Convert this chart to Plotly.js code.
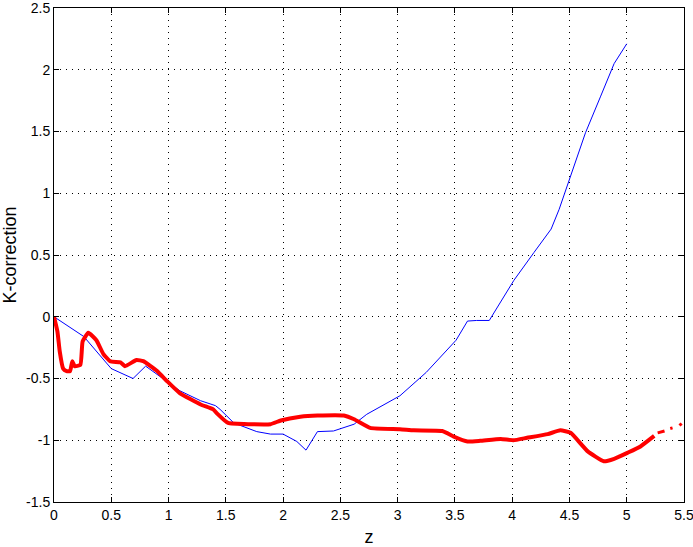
<!DOCTYPE html>
<html>
<head>
<meta charset="utf-8">
<script src="https://cdn.plot.ly/plotly-3.0.1.min.js"></script>
<style>html,body{margin:0;padding:0;background:#fff;}#chart{width:693px;height:547px;}</style>
</head>
<body>
<div id="chart"></div>
<script>
// Blue (thin) K-correction curve
const blueZ = [0, 0.26, 0.50, 0.69, 0.80, 0.985, 1.10, 1.28, 1.41, 1.45, 1.57, 1.77, 1.89, 2.00, 2.12, 2.20, 2.30, 2.44, 2.62, 2.73, 3.02, 3.25, 3.51, 3.61, 3.69, 3.80, 4.015, 4.19, 4.34, 4.41, 4.51, 4.64, 4.77, 4.89, 5.00];
const blueK = [0, -0.16, -0.42, -0.50, -0.40, -0.52, -0.60, -0.68, -0.72, -0.75, -0.86, -0.93, -0.95, -0.95, -1.01, -1.08, -0.93, -0.925, -0.87, -0.79, -0.64, -0.45, -0.19, -0.035, -0.03, -0.03, 0.295, 0.52, 0.71, 0.87, 1.14, 1.49, 1.78, 2.05, 2.21];

// Red (thick) K-correction curve
const redZ = [0, 0.03, 0.05, 0.08, 0.11, 0.14, 0.16, 0.18, 0.23, 0.25, 0.30, 0.37, 0.43, 0.49, 0.58, 0.62, 0.72, 0.78, 0.90, 0.985, 1.10, 1.28, 1.39, 1.42, 1.52, 1.71, 1.89, 1.98, 2.15, 2.30, 2.53, 2.62, 2.76, 3.02, 3.14, 3.39, 3.49, 3.61, 3.72, 3.90, 4.01, 4.13, 4.31, 4.42, 4.51, 4.66, 4.80, 4.89, 5.01, 5.12, 5.24];
const redK = [0, -0.12, -0.28, -0.42, -0.44, -0.44, -0.36, -0.40, -0.39, -0.20, -0.13, -0.19, -0.30, -0.36, -0.37, -0.40, -0.35, -0.36, -0.44, -0.52, -0.62, -0.71, -0.75, -0.78, -0.86, -0.87, -0.87, -0.84, -0.81, -0.80, -0.80, -0.83, -0.90, -0.91, -0.92, -0.925, -0.97, -1.01, -1.005, -0.99, -1.00, -0.98, -0.95, -0.92, -0.94, -1.09, -1.17, -1.15, -1.10, -1.05, -0.965];

// Sparse red tail (broken segments)
const tailZ = [5.27, 5.33, null, 5.38, 5.40, null, 5.46, 5.48];
const tailK = [-0.94, -0.925, null, -0.905, -0.90, null, -0.88, -0.865];

const xTicks = [0, 0.5, 1, 1.5, 2, 2.5, 3, 3.5, 4, 4.5, 5, 5.5];
const xTickText = ['0', '0.5', '1', '1.5', '2', '2.5', '3', '3.5', '4', '4.5', '5', '5.5'];
const yTicks = [-1.5, -1, -0.5, 0, 0.5, 1, 1.5, 2, 2.5];
const yTickText = ['-1.5', '-1', '-0.5', '0', '0.5', '1', '1.5', '2', '2.5'];

const traces = [
  {x: blueZ, y: blueK, mode: 'lines', line: {color: '#0000ff', width: 1}, hoverinfo: 'skip'},
  {x: redZ, y: redK, mode: 'lines', line: {color: '#ff0000', width: 4, shape: 'spline', smoothing: 0.4}, hoverinfo: 'skip'},
  {x: tailZ, y: tailK, mode: 'lines', line: {color: '#ff0000', width: 3}, connectgaps: false, hoverinfo: 'skip'}
];

const axisCommon = {
  showline: true, linecolor: '#000', linewidth: 1, mirror: 'ticks',
  ticks: 'inside', ticklen: 5, tickcolor: '#000', tickwidth: 1,
  showgrid: true, gridcolor: '#000', gridwidth: 1, griddash: '1px,5px',
  zeroline: false, tickfont: {family: 'Liberation Sans, Arial, sans-serif', size: 14, color: '#000'},
  tickmode: 'array', automargin: false, ticklabeloverflow: 'allow'
};

const layout = {
  width: 693, height: 547,
  margin: {l: 54, r: 9, t: 8, b: 45},
  paper_bgcolor: '#fff', plot_bgcolor: '#fff',
  showlegend: false,
  xaxis: Object.assign({}, axisCommon, {
    range: [0, 5.5], tickvals: xTicks, ticktext: xTickText,
    title: {text: 'z', font: {family: 'Liberation Sans, Arial, sans-serif', size: 18, color: '#000'}, standoff: 10}
  }),
  yaxis: Object.assign({}, axisCommon, {
    range: [-1.5, 2.5], tickvals: yTicks, ticktext: yTickText,
    title: {text: 'K-correction', font: {family: 'Liberation Sans, Arial, sans-serif', size: 18, color: '#000'}, standoff: 8}
  })
};

Plotly.newPlot('chart', traces, layout, {displayModeBar: false, staticPlot: true});
</script>
</body>
</html>
